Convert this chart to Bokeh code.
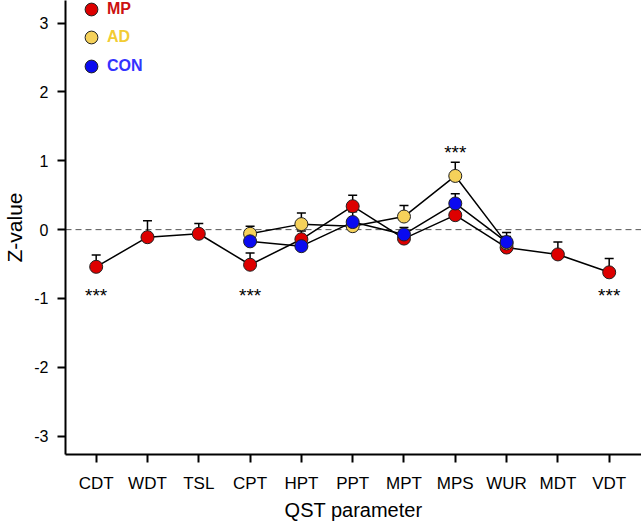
from bokeh.plotting import figure
from bokeh.models import (ColumnDataSource, Whisker, TeeHead, Span, Legend, LegendItem,
                          FixedTicker, Range1d)
from bokeh.core.properties import value
from bokeh.embed import file_html
from bokeh.resources import INLINE

# ---- data ----
categories = ["CDT", "WDT", "TSL", "CPT", "HPT", "PPT", "MPT", "MPS", "WUR", "MDT", "VDT"]

mp_x = [0, 1, 2, 3, 4, 5, 6, 7, 8, 9, 10]
mp_y = [-0.54, -0.11, -0.06, -0.51, -0.14, 0.34, -0.13, 0.21, -0.26, -0.36, -0.62]
mp_err = [0.17, 0.24, 0.15, 0.17, 0.12, 0.16, 0.10, 0.12, 0.10, 0.18, 0.20]

ad_x = [3, 4, 5, 6, 7, 8]
ad_y = [-0.06, 0.08, 0.05, 0.19, 0.78, -0.20]
ad_err = [0.11, 0.16, 0.10, 0.16, 0.20, 0.10]

con_x = [3, 4, 5, 6, 7, 8]
con_y = [-0.17, -0.24, 0.11, -0.07, 0.38, -0.18]
con_err = [0.10, 0.10, 0.15, 0.10, 0.14, 0.14]

sig_x = [0, 3, 7, 10]
sig_y = [-0.96, -0.96, 1.12, -0.96]
sig_text = ["***", "***", "***", "***"]

y_ticks = [-3, -2, -1, 0, 1, 2, 3]
y_tick_labels = ["-3", "-2", "-1", "0", "1", "2", "3"]

MP_COLOR = "#dd0000"
AD_COLOR = "#f5d15a"
CON_COLOR = "#0a0af0"
MP_TEXT = "#cc1111"
AD_TEXT = "#f2cc33"
CON_TEXT = "#3333ff"
FONT = "Liberation Sans"

p = figure(width=641, height=524, output_backend="svg", toolbar_location=None,
           x_range=Range1d(-0.598, 10.63), y_range=Range1d(-3.266, 3.328),
           min_border_left=65, min_border_right=0, min_border_top=0, min_border_bottom=70)
p.outline_line_color = None
p.xgrid.grid_line_color = None
p.ygrid.grid_line_color = None
p.background_fill_color = "white"

zero = Span(location=0, dimension="width", line_color="#555555", line_width=1,
            line_dash="6 4", level="underlay")
p.add_layout(zero)

def make_src(xs, ys, errs):
    return ColumnDataSource(dict(x=xs, y=ys, upper=[a + b for a, b in zip(ys, errs)]))

src_mp = make_src(mp_x, mp_y, mp_err)
src_ad = make_src(ad_x, ad_y, ad_err)
src_con = make_src(con_x, con_y, con_err)

for src in (src_mp, src_ad, src_con):
    w = Whisker(base="x", lower="y", upper="upper", source=src, dimension="height",
                lower_head=None,
                upper_head=TeeHead(size=9, line_width=1.5, line_color="black"),
                line_width=1.5, line_color="black", level="underlay")
    p.add_layout(w)

for src in (src_mp, src_ad, src_con):
    p.line("x", "y", source=src, line_color="black", line_width=1.5)

r_mp = p.scatter("x", "y", source=src_mp, size=13, marker="circle",
                 fill_color=MP_COLOR, line_color="#222222", line_width=1)
r_ad = p.scatter("x", "y", source=src_ad, size=13, marker="circle",
                 fill_color=AD_COLOR, line_color="#222222", line_width=1)
r_con = p.scatter("x", "y", source=src_con, size=13, marker="circle",
                  fill_color=CON_COLOR, line_color="#222222", line_width=1)

p.text(x=sig_x, y=sig_y, text=sig_text, text_align="center", text_baseline="middle",
       text_font=value(FONT), text_font_size="19px", text_color="black")

# axes
p.xaxis.ticker = FixedTicker(ticks=list(range(len(categories))))
p.xaxis.major_label_overrides = {i: c for i, c in enumerate(categories)}
p.yaxis.ticker = FixedTicker(ticks=y_ticks)
p.yaxis.major_label_overrides = {t: s for t, s in zip(y_ticks, y_tick_labels)}
for ax in (p.xaxis[0], p.yaxis[0]):
    ax.axis_line_width = 2
    ax.axis_line_color = "black"
    ax.major_tick_line_width = 2
    ax.major_tick_line_color = "black"
    ax.major_tick_in = 0
    ax.major_tick_out = 8
    ax.minor_tick_line_color = None
    ax.major_label_text_font = FONT
    ax.major_label_text_color = "black"
    ax.axis_label_text_font = FONT
    ax.axis_label_text_font_style = "normal"
    ax.axis_label_text_color = "black"
p.xaxis.major_label_text_font_size = "17px"
p.yaxis.major_label_text_font_size = "16px"
p.xaxis.axis_label = "QST parameter"
p.yaxis.axis_label = "Z-value"
p.xaxis.axis_label_text_font_size = "20px"
p.yaxis.axis_label_text_font_size = "21px"
p.xaxis.major_label_standoff = 11
p.yaxis.major_label_standoff = 9
p.xaxis.axis_label_standoff = 3
p.yaxis.axis_label_standoff = 5

# legends (one per series so that label colours differ)
legend_specs = [("MP", r_mp, MP_TEXT, 429), ("AD", r_ad, AD_TEXT, 401), ("CON", r_con, CON_TEXT, 372)]
for label, rend, col, vy in legend_specs:
    lg = Legend(items=[LegendItem(label=label, renderers=[rend])], location=(10, vy),
                glyph_width=32, glyph_height=32, label_standoff=0, padding=0, margin=0,
                spacing=0, border_line_color=None, background_fill_alpha=0,
                label_text_font=FONT, label_text_font_style="bold",
                label_text_font_size="16px", label_text_color=col)
    p.add_layout(lg)

open("out.html", "w").write(file_html(p, INLINE))
